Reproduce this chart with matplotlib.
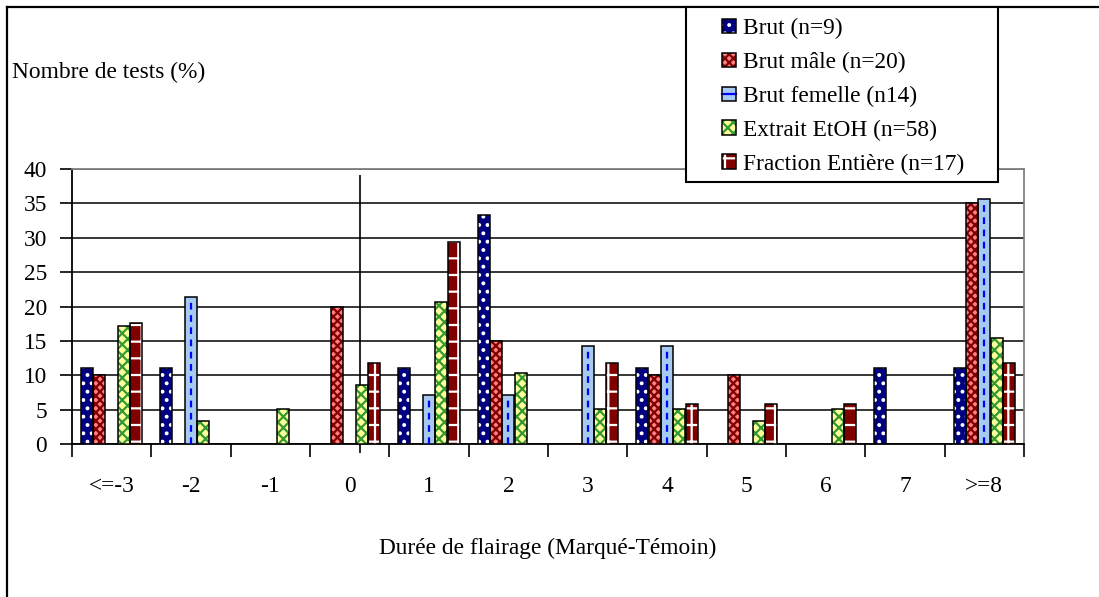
import numpy as np
import matplotlib
matplotlib.use("Agg")
import matplotlib.pyplot as plt
from matplotlib.patches import Patch, Rectangle
from matplotlib.lines import Line2D
from matplotlib.legend_handler import HandlerTuple

plt.rcParams['font.family'] = ['Liberation Serif', 'DejaVu Serif']
plt.rcParams['hatch.linewidth'] = 1.6

# ── data (percent of tests) ──
categories = ['<=-3', '-2', '-1', '0', '1', '2', '3', '4', '5', '6', '7', '>=8']
brut = [11.1, 11.1, 0, 0, 11.1, 33.3, 0, 11.1, 0, 0, 11.1, 11.1]
brut_male = [10, 0, 0, 20, 0, 15, 0, 10, 10, 0, 0, 35]
brut_femelle = [0, 21.4, 0, 0, 7.1, 7.1, 14.3, 14.3, 0, 0, 0, 35.7]
extrait_etoh = [17.2, 3.4, 5.2, 8.6, 20.7, 10.3, 5.2, 5.2, 3.4, 5.2, 0, 15.5]
fraction_entiere = [17.6, 0, 0, 11.8, 29.4, 0, 11.8, 5.9, 5.9, 5.9, 0, 11.8]

labels = ['Brut (n=9)', 'Brut mâle (n=20)', 'Brut femelle (n14)',
          'Extrait EtOH (n=58)', 'Fraction Entière (n=17)']

# face colour, hatch colour, hatch pattern
styles = [
    ('#000080', 'white', '..'),
    ('#FF8080', '#800000', 'xxxx'),
    ('#A6CAF0', '#A6CAF0', ''),
    ('#FFFF99', '#339933', 'xxx'),
    ('#800000', 'white', '+'),
]

FS = 16.8
W, H = 1099, 597
fig = plt.figure(figsize=(W / 100, H / 100), dpi=100)
ax = fig.add_axes([72 / W, (H - 444.3) / H, (1024 - 72) / W, (444.3 - 169) / H])

series = [brut, brut_male, brut_femelle, extrait_etoh, fraction_entiere]
x = np.arange(len(categories))
bw = 0.15
handles = []
for k, (vals, (fc, hc, hatch)) in enumerate(zip(series, styles)):
    pos = x + (k - 2) * 0.155
    vals = np.array(vals, dtype=float)
    keep = vals > 0
    ax.bar(pos[keep], vals[keep], bw, color=fc, edgecolor=hc, hatch=hatch, linewidth=0, zorder=3)
    ax.bar(pos[keep], vals[keep], bw, fill=False, edgecolor='black', linewidth=1.1, zorder=4)
    if k == 2:
        ax.vlines(pos[keep], 0, vals[keep], colors='#0000FF', linestyles=(0, (3, 2.5)),
                  linewidth=1.6, zorder=5)
    h1 = Patch(facecolor=fc, edgecolor=hc, hatch=hatch, linewidth=0)
    h2 = Patch(fill=False, edgecolor='black', linewidth=1.1)
    if k == 2:
        handles.append((h1, Line2D([0], [0], color='#0000FF', lw=1.6), h2))
    else:
        handles.append((h1, h2))

ax.set_xlim(-0.5, len(categories) - 0.5)
ax.set_ylim(0, 40)
ax.set_yticks(range(0, 41, 5))
ax.yaxis.grid(True, color='black', linewidth=1.1, zorder=0)
ax.set_axisbelow(True)

ax.set_xticks(x)
ax.set_xticklabels(categories, fontsize=FS)
ax.set_xticks(np.arange(-0.5, len(categories), 1), minor=True)
ax.tick_params(axis='x', which='major', length=0, pad=23)
ax.tick_params(axis='x', which='minor', length=9, width=1.2, direction='out')
ax.tick_params(axis='y', length=9, width=1.2, direction='out', labelsize=FS, pad=9)

for s in ['left', 'bottom']:
    ax.spines[s].set_color('black')
    ax.spines[s].set_linewidth(1.3)
for s in ['top', 'right']:
    ax.spines[s].set_color('#808080')
    ax.spines[s].set_linewidth(1.3)

# vertical line crossing the plot near "0"
ax.vlines(3.13, -1.3, 39.1, colors='black', linewidth=1.2, clip_on=False, zorder=2)

fig.text(12 / W, 1 - 72 / H, 'Nombre de tests (%)', fontsize=FS, va='center', ha='left')
fig.text(548 / W, 1 - 548 / H, 'Durée de flairage (Marqué-Témoin)', fontsize=FS,
         va='center', ha='center')

# legend box drawn separately so its padding can differ per side
fig.add_artist(Rectangle((686 / W, 1 - 182 / H), (998 - 686) / W, (182 - 7) / H,
                         transform=fig.transFigure, facecolor='white', edgecolor='black',
                         linewidth=1.5, zorder=10))
leg = fig.legend(handles, labels, handler_map={tuple: HandlerTuple(ndivide=1, pad=0)},
                 loc='upper left', bbox_to_anchor=(722 / W, 1 - 18 / H),
                 bbox_transform=fig.transFigure, fontsize=FS, frameon=False,
                 handlelength=0.62, handleheight=0.6, handletextpad=0.3,
                 labelspacing=0.55, borderpad=0, borderaxespad=0)
leg.set_zorder(11)

# figure frame (top and left edges visible)
fig.add_artist(Line2D([7 / W, 1], [1 - 7 / H, 1 - 7 / H], color='black', lw=1.6,
                      transform=fig.transFigure))
fig.add_artist(Line2D([7 / W, 7 / W], [0, 1 - 7 / H], color='black', lw=1.6,
                      transform=fig.transFigure))

fig.savefig('out.png', dpi=100)
